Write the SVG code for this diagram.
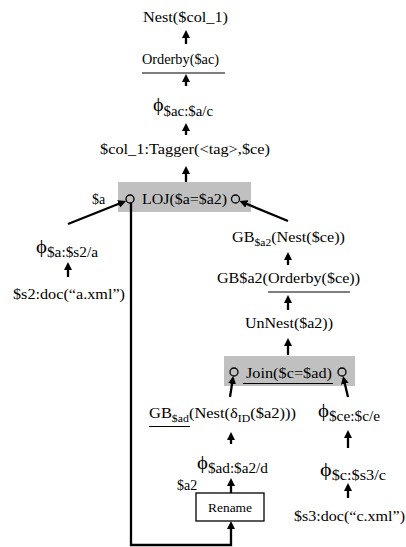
<svg xmlns="http://www.w3.org/2000/svg" width="406" height="547" viewBox="0 0 406 547">
<style>
text{font-family:"Liberation Serif","DejaVu Serif",serif;font-size:14px;fill:#000}
.phi{font-size:19px}
.sub{font-size:10px}
.e{stroke:#000;stroke-width:2.3;fill:none}
.u{stroke:#000;stroke-width:1.2}
.op{fill:#c0c0c0;stroke:none}
.port{fill:none;stroke:#000;stroke-width:1.3}
.box{fill:#fff;stroke:#000;stroke-width:1.3}
</style>
<defs>
<marker id="ah" viewBox="0 0 8 8" markerWidth="8" markerHeight="8" markerUnits="userSpaceOnUse" refX="3" refY="4" orient="auto">
<path d="M0,0 L8,4 L0,8 z" fill="#000"/>
</marker>
</defs>
<g id="n_nest"><text x="143" y="21.5" textLength="85" lengthAdjust="spacingAndGlyphs">Nest($col_1)</text></g>
<g id="n_orderby"><text x="142" y="64" textLength="77" lengthAdjust="spacingAndGlyphs">Orderby($ac)</text><line class="u" x1="142" y1="73" x2="225" y2="73"/></g>
<g id="n_phi_ac"><text x="153" y="111" textLength="60" lengthAdjust="spacingAndGlyphs"><tspan class="phi">ϕ</tspan><tspan dy="5">$ac:$a/c</tspan></text></g>
<g id="n_tagger"><text x="100" y="154" textLength="170" lengthAdjust="spacingAndGlyphs">$col_1:Tagger(&lt;tag&gt;,$ce)</text></g>
<g id="n_loj"><rect class="op" x="118" y="182" width="133" height="30"/><circle class="port" cx="130" cy="199" r="4"/><circle class="port" cx="235.5" cy="199" r="4"/><text x="142" y="204" textLength="85" lengthAdjust="spacingAndGlyphs">LOJ($a=$a2)</text><text x="92" y="204">$a</text></g>
<g id="n_phi_a"><text x="36" y="253" textLength="62" lengthAdjust="spacingAndGlyphs"><tspan class="phi">ϕ</tspan><tspan dy="4">$a:$s2/a</tspan></text></g>
<g id="n_doc_a"><text x="13" y="299" textLength="112" lengthAdjust="spacingAndGlyphs">$s2:doc(“a.xml”)</text></g>
<g id="n_gb_nest"><text x="232" y="242" textLength="113" lengthAdjust="spacingAndGlyphs">GB<tspan class="sub" dy="4">$a2</tspan><tspan dy="-4">(Nest($ce))</tspan></text></g>
<g id="n_gb_orderby"><text x="217" y="283" textLength="143" lengthAdjust="spacingAndGlyphs">GB$a2(Orderby($ce))</text><line class="u" x1="268" y1="292" x2="350" y2="292"/></g>
<g id="n_unnest"><text x="245" y="328" textLength="88" lengthAdjust="spacingAndGlyphs">UnNest($a2))</text></g>
<g id="n_join"><rect class="op" x="224" y="356" width="131" height="30"/><circle class="port" cx="234" cy="372" r="4"/><circle class="port" cx="342" cy="372" r="4"/><text x="246" y="378" textLength="86" lengthAdjust="spacingAndGlyphs">Join($c=$ad)</text><line class="u" x1="243" y1="383.5" x2="333" y2="383.5"/></g>
<g id="n_gb_ad"><text x="149" y="417.5" textLength="147" lengthAdjust="spacingAndGlyphs">GB<tspan class="sub" dy="4">$ad</tspan><tspan dy="-4">(Nest(δ</tspan><tspan class="sub" dy="4">ID</tspan><tspan dy="-4">($a2)))</tspan></text><line class="u" x1="149" y1="426.5" x2="190" y2="426.5"/></g>
<g id="n_phi_ce"><text x="318" y="417" textLength="62" lengthAdjust="spacingAndGlyphs"><tspan class="phi">ϕ</tspan><tspan dy="4">$ce:$c/e</tspan></text></g>
<g id="n_phi_ad"><text x="197" y="469" textLength="71" lengthAdjust="spacingAndGlyphs"><tspan class="phi">ϕ</tspan><tspan dy="4">$ad:$a2/d</tspan></text><text x="177" y="490">$a2</text></g>
<g id="n_rename"><rect class="box" x="196" y="493" width="68" height="28"/><text x="208" y="512" style="font-size:12px" textLength="44" lengthAdjust="spacingAndGlyphs">Rename</text></g>
<g id="n_phi_c"><text x="320" y="476" textLength="66" lengthAdjust="spacingAndGlyphs"><tspan class="phi">ϕ</tspan><tspan dy="4">$c:$s3/c</tspan></text></g>
<g id="n_doc_c"><text x="294" y="521" textLength="111" lengthAdjust="spacingAndGlyphs">$s3:doc(“c.xml”)</text></g>
<g id="connectors">
<line class="e" x1="186" y1="44" x2="186" y2="35" marker-end="url(#ah)"/>
<line class="e" x1="186" y1="86" x2="186" y2="79" marker-end="url(#ah)"/>
<line class="e" x1="186" y1="135" x2="186" y2="128" marker-end="url(#ah)"/>
<line class="e" x1="186" y1="182" x2="186" y2="171" marker-end="url(#ah)"/>
<line class="e" x1="68" y1="224" x2="121.4" y2="202.8" marker-end="url(#ah)"/>
<line class="e" x1="288" y1="221" x2="244.1" y2="202.9" marker-end="url(#ah)"/>
<line class="e" x1="68" y1="277" x2="68" y2="267" marker-end="url(#ah)"/>
<line class="e" x1="288" y1="265" x2="288" y2="257" marker-end="url(#ah)"/>
<line class="e" x1="288" y1="310" x2="288" y2="300" marker-end="url(#ah)"/>
<line class="e" x1="288" y1="355" x2="288" y2="343" marker-end="url(#ah)"/>
<line class="e" x1="230" y1="397" x2="232.5" y2="380.9" marker-end="url(#ah)"/>
<line class="e" x1="348" y1="397" x2="344.2" y2="380.9" marker-end="url(#ah)"/>
<line class="e" x1="231" y1="444" x2="231" y2="437" marker-end="url(#ah)"/>
<line class="e" x1="231" y1="493" x2="231" y2="483" marker-end="url(#ah)"/>
<line class="e" x1="348" y1="448" x2="348" y2="435" marker-end="url(#ah)"/>
<line class="e" x1="348" y1="498" x2="348" y2="488" marker-end="url(#ah)"/>
<path class="e" d="M131,203 V545 H231 V526" marker-end="url(#ah)"/>
</g>
</svg>
